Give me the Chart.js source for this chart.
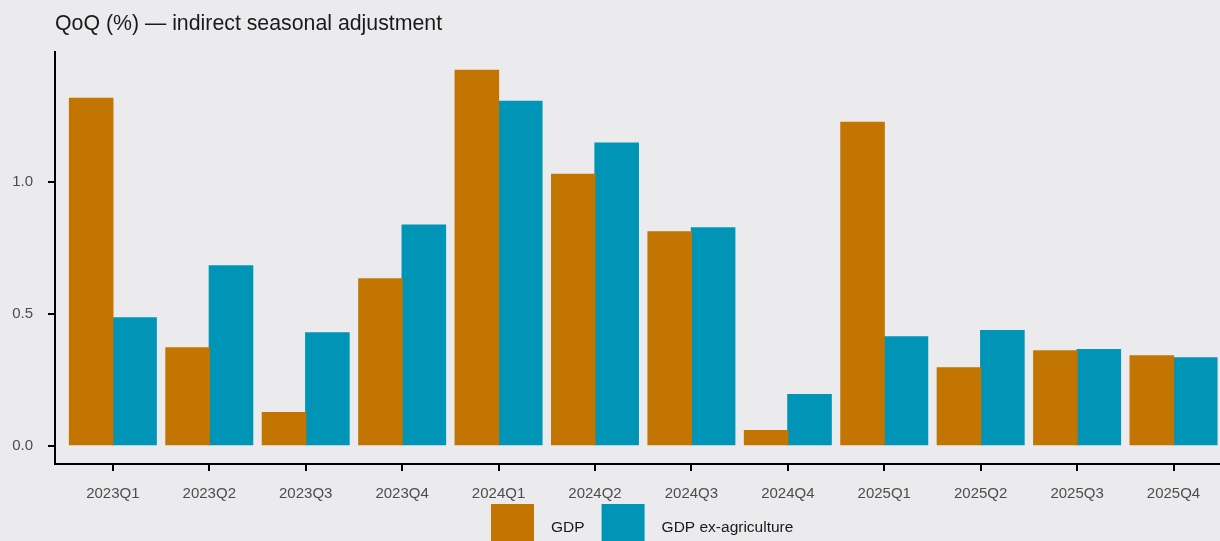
<!DOCTYPE html>
<html lang="en">
<head>
<meta charset="utf-8">
<title>QoQ growth — indirect seasonal adjustment</title>
<script src="https://cdn.jsdelivr.net/npm/chart.js@4.4.1/dist/chart.umd.min.js"></script>
<style>
  html, body { margin: 0; padding: 0; background: #ebebee; overflow: hidden; }
  #wrap { position: relative; width: 1220px; height: 541px; }
</style>
</head>
<body>
<div id="wrap"><canvas id="qoqChart"></canvas></div>
<script>
// quarters on the x axis
const quarters = ['2023Q1', '2023Q2', '2023Q3', '2023Q4', '2024Q1', '2024Q2',
                  '2024Q3', '2024Q4', '2025Q1', '2025Q2', '2025Q3', '2025Q4'];
// quarter-on-quarter growth, %
const gdp      = [1.318, 0.371, 0.125, 0.633, 1.424, 1.030, 0.811, 0.057, 1.227, 0.295, 0.360, 0.341];
const gdpExAgr = [0.485, 0.682, 0.428, 0.837, 1.307, 1.148, 0.826, 0.193, 0.413, 0.436, 0.364, 0.333];
const yTicks = [0, 0.5, 1.0];
const seriesNames = ['GDP', 'GDP ex-agriculture'];
const seriesColors = ['#c27500', '#0094b6'];

const titleText = 'QoQ (%) \u2014 indirect seasonal adjustment';
const FONT = '"Liberation Sans", Arial, sans-serif';

// title and the square-key legend, drawn by hand
const decorations = {
  id: 'decorations',
  afterDraw(chart) {
    const ctx = chart.ctx;
    ctx.save();
    ctx.fillStyle = '#1a1a1a';
    ctx.font = '21.3px ' + FONT;
    ctx.textAlign = 'left';
    ctx.textBaseline = 'alphabetic';
    ctx.fillText(titleText, 55, 30);

    ctx.font = '15.5px ' + FONT;
    ctx.textBaseline = 'middle';
    let x = 491;
    chart.data.datasets.forEach(ds => {
      ctx.fillStyle = ds.backgroundColor;
      ctx.fillRect(x, 504, 43, 43);
      x += 43 + 17;
      ctx.fillStyle = '#1a1a1a';
      ctx.fillText(ds.label, x, 528);
      x += ctx.measureText(ds.label).width + 17;
    });
    ctx.restore();
  }
};

const toPoints = arr => arr.map((v, i) => ({ x: i + 1, y: v }));

new Chart(document.getElementById('qoqChart'), {
  type: 'bar',
  data: {
    datasets: [
      { label: seriesNames[0], data: toPoints(gdp), backgroundColor: seriesColors[0] },
      { label: seriesNames[1], data: toPoints(gdpExAgr), backgroundColor: seriesColors[1] }
    ]
  },
  options: {
    responsive: true,
    maintainAspectRatio: false,
    animation: false,
    events: [],
    layout: { padding: { top: 52, right: 0, left: 0, bottom: 0 }, autoPadding: false },
    datasets: {
      bar: { categoryPercentage: 0.9, barPercentage: 1.0, borderWidth: 0, inflateAmount: 0.6 }
    },
    plugins: {
      legend: { display: false },
      title: { display: false },
      tooltip: { enabled: false }
    },
    scales: {
      x: {
        type: 'linear',
        min: 0.4,
        max: 12.482,
        offset: false,
        grid: { display: true, drawOnChartArea: false, drawTicks: true, tickLength: 7,
                color: '#000', lineWidth: 2, offset: false },
        border: { display: true, color: '#000', width: 2 },
        ticks: {
          autoSkip: false, maxRotation: 0, padding: 14,
          color: '#4d4d4d', font: { family: FONT, size: 15 },
          callback: v => quarters[v - 1]
        },
        afterBuildTicks: scale => { scale.ticks = quarters.map((q, i) => ({ value: i + 1 })); },
        afterFit: scale => { scale.height = 541 - 464; }
      },
      y: {
        min: -0.07,
        max: 1.494,
        grid: { display: true, drawOnChartArea: false, drawTicks: true, tickLength: 7,
                color: '#000', lineWidth: 2 },
        border: { display: true, color: '#000', width: 2 },
        ticks: {
          padding: 15, color: '#4d4d4d', font: { family: FONT, size: 15 },
          callback: v => v.toFixed(1)
        },
        afterBuildTicks: scale => { scale.ticks = yTicks.map(v => ({ value: v })); },
        afterFit: scale => { scale.width = 55; }
      }
    }
  },
  plugins: [decorations]
});
</script>
</body>
</html>
